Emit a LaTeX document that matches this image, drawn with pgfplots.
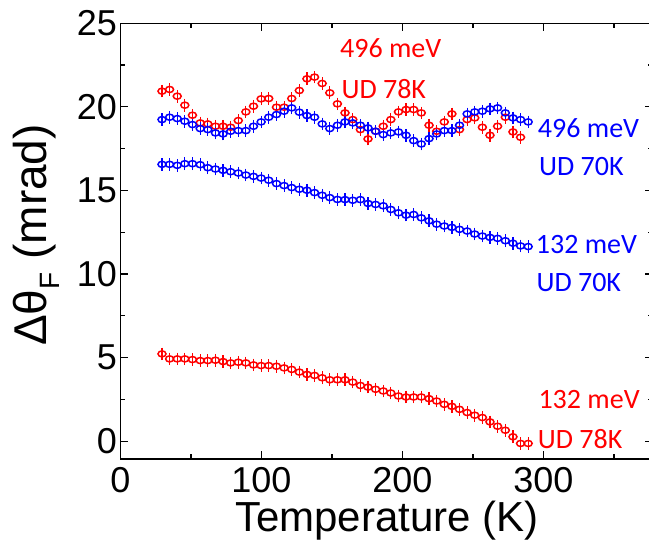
\documentclass[border=0pt]{standalone}
\usepackage{pgfplots}
\pgfplotsset{compat=1.18}
\usepackage{pgfplotstable}
\usepackage{fontspec}
\setmainfont{Liberation Sans}
\newfontfamily\calfont{Carlito}
\definecolor{myred}{RGB}{255,0,0}
\definecolor{myblue}{RGB}{0,0,255}
\pgfplotstableread{
T r132 b132 b496 r496
29.5 5.22 16.56 19.24 20.94
34.9 4.92 16.56 19.38 21.04
40.3 4.92 16.50 19.30 20.64
45.7 4.92 16.60 19.14 20.10
51.1 4.88 16.60 18.94 19.50
56.6 4.82 16.54 18.70 19.04
62.0 4.82 16.36 18.64 18.98
67.4 4.84 16.28 18.44 18.84
72.8 4.76 16.20 18.38 18.84
78.2 4.68 16.12 18.54 18.78
83.6 4.72 16.04 18.58 19.18
89.0 4.68 15.92 18.58 19.70
94.4 4.56 15.84 18.84 20.04
99.8 4.52 15.74 19.10 20.48
105.2 4.52 15.61 19.38 20.50
110.7 4.48 15.41 19.54 19.98
116.1 4.38 15.29 19.74 19.98
121.5 4.29 15.17 19.94 20.50
126.9 4.13 15.07 19.68 20.98
132.3 3.99 15.01 19.48 21.68
137.7 3.93 14.87 19.38 21.78
143.1 3.79 14.71 18.98 21.40
148.5 3.67 14.57 18.70 20.84
153.9 3.67 14.46 18.90 20.18
159.3 3.67 14.45 19.10 19.64
164.8 3.53 14.41 19.04 19.24
170.2 3.33 14.45 18.90 18.64
175.6 3.23 14.22 18.74 18.08
181.0 3.10 14.16 18.54 18.54
186.4 3.00 14.08 18.34 18.84
191.8 2.88 13.86 18.44 19.24
197.2 2.70 13.66 18.50 19.70
202.6 2.64 13.52 18.30 19.84
208.0 2.64 13.56 17.98 19.84
213.4 2.64 13.36 17.78 19.64
218.9 2.54 13.18 18.10 18.90
224.3 2.40 12.98 18.38 18.54
229.7 2.20 12.87 18.58 19.10
235.1 2.08 12.79 18.58 19.58
240.5 1.90 12.67 18.90 18.64
245.9 1.71 12.57 19.58 19.24
251.3 1.55 12.39 19.70 19.34
256.7 1.41 12.27 19.74 18.78
262.1 1.15 12.19 19.88 18.30
267.5 0.89 12.13 19.94 18.84
273.0 0.65 11.99 19.64 19.38
278.4 0.26 11.84 19.34 18.50
283.8 -0.14 11.68 19.24 18.18
289.2 -0.14 11.64 19.10 nan
}\data
\pgfplotsset{
  mystyle/.style={only marks, mark=o, mark size=3.2pt, line width=1.5pt,
    mark options={xscale=1.25, yscale=0.95},
    error bars/.cd, y dir=both, y fixed=0.2,
    error bar style={line width=1.2pt},
    error mark options={mark size=3pt, line width=1.2pt}}
}
\begin{document}
\begin{tikzpicture}
\path[use as bounding box] (-120.4pt,-84pt) rectangle (528.6pt,459pt);
\begin{axis}[
  at={(0,0)}, anchor=south west,
  scale only axis, width=533pt, height=435.7pt,
  xmin=0, xmax=378, ymin=-1.07, ymax=25,
  axis line style={line width=1.2pt},
  xtick={0,100,200,300}, ytick={0,5,10,15,20,25},
  minor xtick={50,150,250,350}, minor ytick={2.5,7.5,12.5,17.5,22.5},
  tick align=inside, xtick pos=both, ytick pos=both,
  major tick length=8pt, minor tick length=5pt,
  tick style={line width=1.2pt, black},
  /pgf/number format/assume math mode=true,
  ticklabel style={font=\fontsize{36}{36}\selectfont},
  xticklabel style={anchor=base, yshift=-34pt},
  yticklabel style={anchor=east},
  clip=true,
]
\addplot[myred, mystyle] table[x=T, y=r496] {\data};
\addplot[myblue, mystyle] table[x=T, y=b496] {\data};
\addplot[myblue, mystyle] table[x=T, y=b132] {\data};
\addplot[myred, mystyle] table[x=T, y=r132] {\data};
\node[anchor=west, inner sep=0pt, text=myred, font=\calfont\fontsize{28}{28}\selectfont] at (axis cs:155.7,23.54) {496 meV};
\node[anchor=west, inner sep=0pt, text=myred, font=\calfont\fontsize{28}{28}\selectfont] at (axis cs:156.7,21.08) {UD 78K};
\node[anchor=west, inner sep=0pt, text=myblue, font=\calfont\fontsize{28}{28}\selectfont] at (axis cs:296,18.74) {496 meV};
\node[anchor=west, inner sep=0pt, text=myblue, font=\calfont\fontsize{28}{28}\selectfont] at (axis cs:296.8,16.44) {UD 70K};
\node[anchor=west, inner sep=0pt, text=myblue, font=\calfont\fontsize{28}{28}\selectfont] at (axis cs:294.5,11.75) {132 meV};
\node[anchor=west, inner sep=0pt, text=myblue, font=\calfont\fontsize{28}{28}\selectfont] at (axis cs:295,9.46) {UD 70K};
\node[anchor=west, inner sep=0pt, text=myred, font=\calfont\fontsize{28}{28}\selectfont] at (axis cs:296.4,2.5) {132 meV};
\node[anchor=west, inner sep=0pt, text=myred, font=\calfont\fontsize{28}{28}\selectfont] at (axis cs:296,0.1) {UD 78K};
\end{axis}
\node[anchor=base, inner sep=0pt, font=\fontsize{42}{42}\selectfont] at (266.5pt,-73pt) {Temperature (K)};
\node[rotate=90, inner sep=0pt, font=\fontsize{46}{46}\selectfont] at (-84pt,224pt) {Δθ\raisebox{-0.28em}{\fontsize{28}{28}\selectfont F} (mrad)};
\end{tikzpicture}
\end{document}
